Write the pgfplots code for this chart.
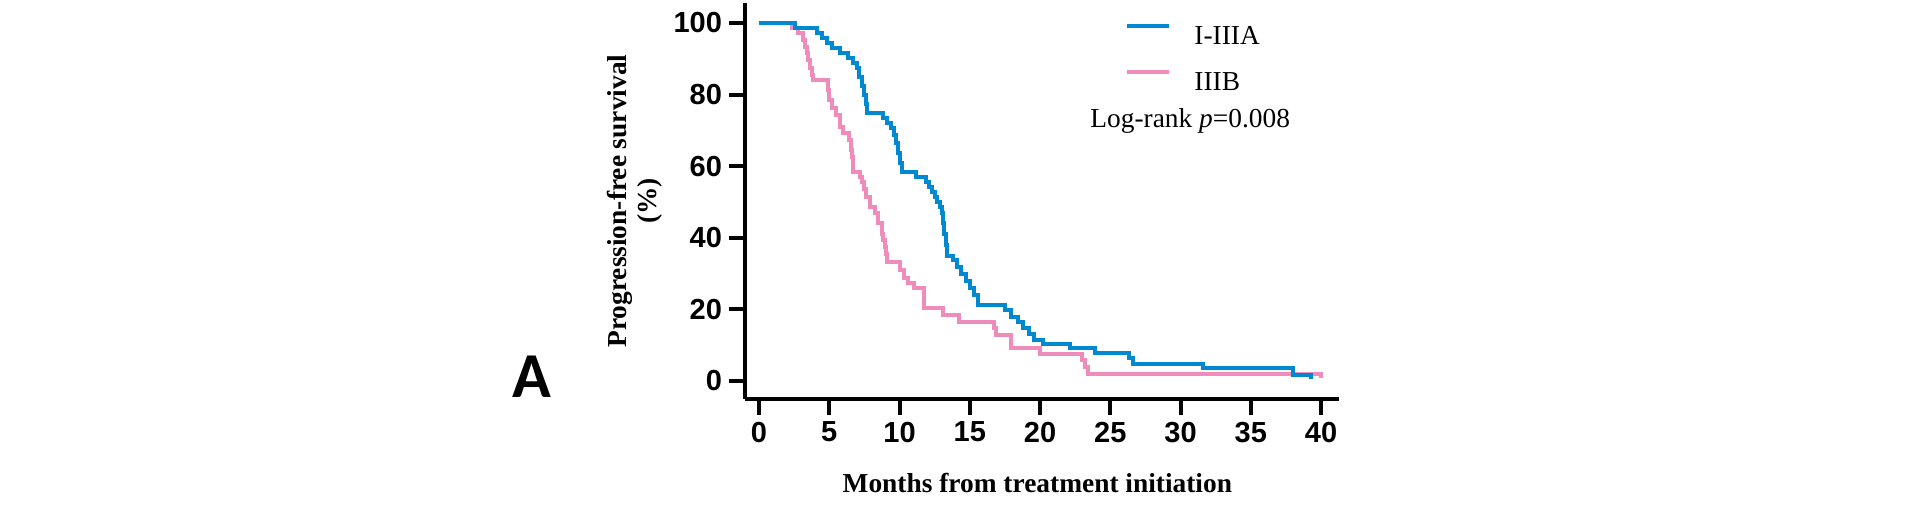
\documentclass[border=0pt]{standalone}
\usepackage{pgfplots}
\pgfplotsset{compat=1.18}
\usepackage{fontspec}
\setmainfont{Liberation Serif}
\setsansfont{Liberation Sans}
\newfontfamily\panelfont{Carlito}
\definecolor{kmblue}{RGB}{0,137,208}
\definecolor{kmpink}{RGB}{240,140,188}

\begin{document}
\begin{tikzpicture}
\path[use as bounding box] (0,0) rectangle (952.5pt,252.5pt);
\node[anchor=base west, inner sep=0pt, font=\panelfont\bfseries\fontsize{32}{32}\selectfont] at (256pt,54pt) {A};
\begin{axis}[
  at={(379.5pt,62pt)}, anchor=origin,
  x=7.025pt, y=1.79pt,
  xmin=-1, xmax=41.3, ymin=-5, ymax=105.5,
  axis lines=left,
  axis line style={-, line width=2pt, black},
  tick align=outside,
  major tick length=8pt,
  tick style={line width=2pt, black},
  xtick={0,5,...,40}, ytick={0,20,...,100},
  /pgf/number format/assume math mode=true,
  ticklabel style={font=\sffamily\bfseries\fontsize{14.5}{16}\selectfont},
  xlabel={Months from treatment initiation},
  xlabel style={at={(axis description cs:0.492,-0.212)}, anchor=center,
    font=\bfseries\fontsize{13.7}{15}\selectfont},
  ylabel={Progression-free survival\\(\%)},
  ylabel style={at={(axis description cs:-0.185,0.5)}, anchor=center, align=center,
    font=\bfseries\fontsize{13.7}{15}\selectfont},
  clip=false,
  legend style={draw=none, fill=none, at={(axis cs:26.05,99.9)}, anchor=north west,
    font=\fontsize{13.7}{15}\selectfont, row sep=13pt, column sep=11.5pt,
    inner sep=0pt, nodes={inner sep=0pt, text height=9.5pt, text depth=0pt}},
  legend cell align=left,
  legend image code/.code={\draw[#1] (0pt,4.5pt) -- (21pt,4.5pt);},
]
\addlegendimage{kmblue, line width=2pt}
\addlegendentry{I-IIIA}
\addlegendimage{kmpink, line width=2pt}
\addlegendentry{IIIB}

% IIIB
\addplot[kmpink, line width=2pt, const plot, forget plot] coordinates {
(0,100) (2.35,98.6) (2.8,97.1) (3.1,95.3) (3.27,93.4) (3.4,91.5) (3.5,89.7)
(3.65,87.3) (3.75,85.5) (3.87,84.0) (4.94,81.3) (5.0,78.5) (5.17,76.2)
(5.5,74.3) (5.77,71.0) (6.0,69.2) (6.43,67.3) (6.55,64.5) (6.6,62.7)
(6.7,58.5) (7.19,57.1) (7.3,55.5) (7.45,53.5) (7.6,51.5) (7.9,48.7)
(8.26,46.8) (8.5,44.1) (8.73,41.2) (8.85,39.5) (8.97,37.5) (9.05,35.5)
(9.1,33.3) (10.0,31.0) (10.3,28.7) (10.6,27.3) (11.0,25.9) (11.75,20.3)
(13.1,18.4) (14.2,16.6) (16.7,14.7) (16.9,12.8) (17.9,9.1) (20.0,7.5)
(23.0,5.9) (23.2,4.0) (23.4,2.0) (40.0,2.0) (40.0,0.8)
};

% I-IIIA
\addplot[kmblue, line width=2pt, const plot, forget plot] coordinates {
(0,100) (2.56,98.6) (4.1,97.1) (4.46,95.7) (4.82,94.3) (5.17,92.9)
(5.77,91.5) (6.36,90.1) (6.72,88.7) (7.0,87.3) (7.1,85.0) (7.3,82.5)
(7.45,80.0) (7.6,77.5) (7.7,74.8) (8.86,73.4) (9.1,72.0) (9.4,70.6)
(9.6,68.8) (9.75,66.5) (9.9,63.6) (10.0,61.0) (10.15,58.5) (11.2,57.1)
(11.9,55.7) (12.1,54.3) (12.3,52.9) (12.5,51.5) (12.7,50.0) (12.85,48.5)
(13.0,47.0) (13.1,44.0) (13.2,41.0) (13.3,38.0) (13.4,35.0) (13.8,33.8)
(14.1,31.8) (14.4,29.8) (14.7,27.9) (15.0,25.9) (15.3,24.0) (15.6,21.2)
(17.5,19.8) (17.9,18.0) (18.4,16.4) (18.8,14.7) (19.2,13.0) (19.6,11.5)
(20.2,10.3) (22.1,9.1) (23.9,7.7) (26.3,6.3) (26.6,4.7) (31.6,3.5)
(38.0,1.7) (39.3,0.5)
};

\node[anchor=base west, inner sep=0pt, font=\fontsize{13.7}{15}\selectfont]
  at (axis cs:23.56,70.9) {Log-rank \textit{p}=0.008};
\end{axis}
\end{tikzpicture}
\end{document}
